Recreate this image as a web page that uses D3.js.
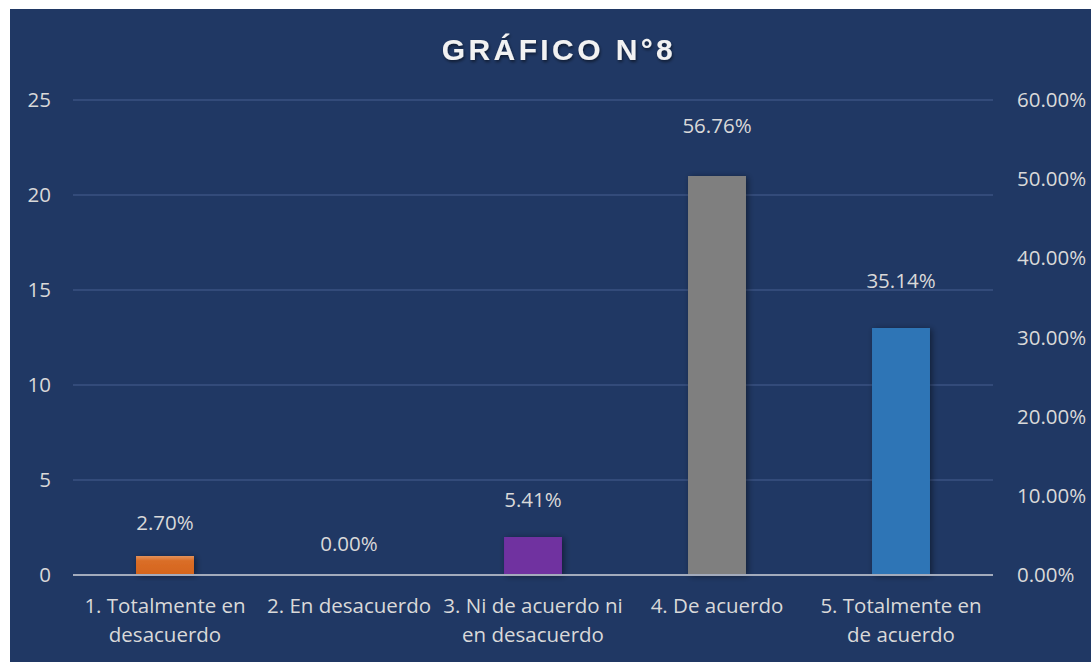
<!DOCTYPE html>
<html>
<head>
<meta charset="utf-8">
<script src="https://cdn.jsdelivr.net/npm/d3@7"></script>
<style>
  html, body { margin: 0; padding: 0; background: #ffffff; }
  svg { display: block; }
</style>
</head>
<body>
<svg id="chart" width="1091" height="662"></svg>
<script>
// ---- data ----
const title = "GRÁFICO N°8";
const categories = [
  "1. Totalmente en desacuerdo",
  "2. En desacuerdo",
  "3. Ni de acuerdo ni en desacuerdo",
  "4. De acuerdo",
  "5. Totalmente en de acuerdo"
];
const counts = [1, 0, 2, 21, 13];
const percents = [0.0270, 0.0000, 0.0541, 0.5676, 0.3514];
const barColors = ["#D8691F", "#5B9BD5", "#7030A0", "#7F7F7F", "#2E75B6"];
const leftTicks = [0, 5, 10, 15, 20, 25];
const rightTicks = [0, 0.1, 0.2, 0.3, 0.4, 0.5, 0.6];

// ---- layout (not data) ----
const W = 1091, H = 662;
const plot = { left: 73, right: 993, top: 100, bottom: 575 };
const labelLift = [31, 31, 32, 0, 16];
const textColor = "#d9d9d9";
const font = "'Open Sans', 'Noto Sans', sans-serif";

const svg = d3.select("#chart");
const defs = svg.append("defs");
const shadow = defs.append("filter").attr("id", "shadow")
  .attr("x", "-30%").attr("y", "-30%").attr("width", "160%").attr("height", "160%");
shadow.append("feDropShadow").attr("dx", 2).attr("dy", 1).attr("stdDeviation", 3)
  .attr("flood-color", "#000").attr("flood-opacity", 0.45);
const tshadow = defs.append("filter").attr("id", "tshadow")
  .attr("x", "-10%").attr("y", "-30%").attr("width", "120%").attr("height", "160%");
tshadow.append("feDropShadow").attr("dx", 1).attr("dy", 2).attr("stdDeviation", 1.5)
  .attr("flood-color", "#000").attr("flood-opacity", 0.5);
const og = defs.append("linearGradient").attr("id", "orangeGrad")
  .attr("x1", 0).attr("y1", 0).attr("x2", 0).attr("y2", 1);
og.append("stop").attr("offset", "0%").attr("stop-color", "#E4925A");
og.append("stop").attr("offset", "25%").attr("stop-color", "#DA6E28");
og.append("stop").attr("offset", "100%").attr("stop-color", "#D5641B");

// background
svg.append("rect").attr("x", 10).attr("y", 9).attr("width", W - 10).attr("height", H - 9)
  .attr("fill", "#203864");

// title
svg.append("text")
  .attr("x", 559).attr("y", 60)
  .attr("text-anchor", "middle")
  .attr("fill", "#f2f2f2")
  .attr("font-family", "'Liberation Sans', Arial, sans-serif")
  .attr("font-weight", "bold")
  .attr("font-size", 30)
  .attr("letter-spacing", 3.4)
  .attr("filter", "url(#tshadow)")
  .text(title);

// scales
const x = d3.scaleBand().domain(categories).range([plot.left, plot.right]).paddingInner(0.685).paddingOuter(0.3425);
const yL = d3.scaleLinear().domain([0, 25]).range([plot.bottom, plot.top]);
const yR = d3.scaleLinear().domain([0, 0.6]).range([plot.bottom, plot.top]);

// gridlines
svg.append("g").selectAll("line").data(leftTicks.filter(d => d > 0)).join("line")
  .attr("x1", plot.left).attr("x2", plot.right)
  .attr("y1", d => yL(d)).attr("y2", d => yL(d))
  .attr("stroke", "#3a5282").attr("stroke-width", 1.6);

// left axis
const axL = svg.append("g").attr("transform", `translate(${plot.left},0)`)
  .call(d3.axisLeft(yL).tickValues(leftTicks).tickSize(0).tickPadding(22));
axL.select(".domain").remove();
axL.selectAll("text").attr("fill", textColor).attr("font-family", font).attr("font-size", 20.5);

// right axis
const axR = svg.append("g").attr("transform", `translate(${plot.right},0)`)
  .call(d3.axisRight(yR).tickValues(rightTicks).tickSize(0).tickPadding(24).tickFormat(d => (d * 100).toFixed(2) + "%"));
axR.select(".domain").remove();
axR.selectAll("text").attr("fill", textColor).attr("font-family", font).attr("font-size", 20.5);

// bars
svg.append("g").selectAll("rect").data(categories).join("rect")
  .attr("x", d => x(d))
  .attr("width", x.bandwidth())
  .attr("y", (d, i) => yL(counts[i]))
  .attr("height", (d, i) => yL(0) - yL(counts[i]))
  .attr("fill", (d, i) => i === 0 ? "url(#orangeGrad)" : barColors[i])
  .attr("filter", "url(#shadow)");

// zero axis line
svg.append("line")
  .attr("x1", plot.left).attr("x2", plot.right)
  .attr("y1", yL(0)).attr("y2", yL(0))
  .attr("stroke", "#a3abbc").attr("stroke-width", 2);

// percentage labels (secondary axis series)
svg.append("g").selectAll("text").data(categories).join("text")
  .attr("x", d => x(d) + x.bandwidth() / 2)
  .attr("y", (d, i) => yR(percents[i]) - labelLift[i])
  .attr("dy", "0.35em")
  .attr("text-anchor", "middle")
  .attr("fill", textColor)
  .attr("font-family", font)
  .attr("font-size", 20.5)
  .text((d, i) => (percents[i] * 100).toFixed(2) + "%");

// category labels with wrapping
const step = x.step();
const xLabels = svg.append("g").selectAll("text").data(categories).join("text")
  .attr("x", d => x(d) + x.bandwidth() / 2)
  .attr("y", 613)
  .attr("text-anchor", "middle")
  .attr("fill", textColor)
  .attr("font-family", font)
  .attr("font-size", 20.5);

xLabels.each(function (d) {
  const t = d3.select(this);
  const cx = +t.attr("x");
  const words = d.split(" ");
  let line = [];
  let lineNo = 0;
  let tspan = t.append("tspan").attr("x", cx).attr("y", 613);
  words.forEach(w => {
    line.push(w);
    tspan.text(line.join(" "));
    if (tspan.node().getComputedTextLength() > step + 4 && line.length > 1) {
      line.pop();
      tspan.text(line.join(" "));
      line = [w];
      lineNo++;
      tspan = t.append("tspan").attr("x", cx).attr("y", 613 + lineNo * 29).text(w);
    }
  });
});
</script>
</body>
</html>
